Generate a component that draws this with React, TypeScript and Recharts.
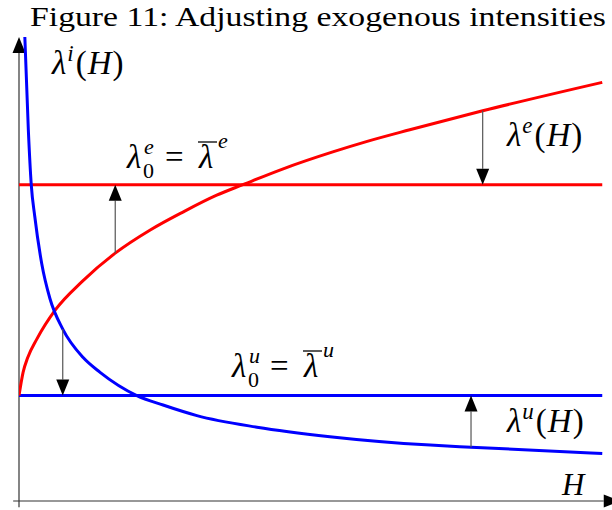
import React from 'react';
import { LineChart, Line, XAxis, YAxis, ReferenceLine, Customized } from 'recharts';

// Exogenous intensity lambda^e(H), read along the horizon H
const redH = [0, 0.07, 0.15, 0.31, 0.62, 1.08, 1.65, 2.25, 2.81, 3.39, 3.84, 4.53, 5.38, 5.97, 6.7, 7.95, 10.0];
const redLambda = [1.0, 1.22, 1.36, 1.54, 1.81, 2.08, 2.35, 2.57, 2.74, 2.9, 3.0, 3.15, 3.31, 3.41, 3.52, 3.7, 3.97];

// Exogenous intensity lambda^u(H)
const blueH = [0.1, 0.16, 0.21, 0.27, 0.39, 0.53, 0.75, 1.1, 1.39, 2.02, 2.47, 3.05, 4.08, 5.33, 7.05, 7.75, 10.0];
const blueLambda = [4.4, 3.52, 3.0, 2.7, 2.25, 1.92, 1.63, 1.36, 1.22, 1.0, 0.91, 0.81, 0.7, 0.61, 0.53, 0.51, 0.45];

// Constant base intensities lambda_0 = lambda-bar
const lambdaBarE = 3;
const lambdaBarU = 1;

const hMax = 10.15;
const lambdaMax = 4.4;

const RED = '#ff0000';
const BLUE = '#0000ff';
const SERIF = '"Liberation Serif", "Times New Roman", serif';

const redData = redH.map((h, i) => ({ h, lambda: redLambda[i] }));
const blueData = blueH.map((h, i) => ({ h, lambda: blueLambda[i] }));

// vertical arrows showing how each curve is pulled to its base level
const adjustArrows = [
  { h: redH[6], from: redLambda[6], to: lambdaBarE },
  { h: redH[15], from: redLambda[15], to: lambdaBarE },
  { h: blueH[6], from: blueLambda[6], to: lambdaBarU },
  { h: blueH[15], from: blueLambda[15], to: lambdaBarU },
];

const Arrow = (props: any) => {
  const { x1, y1, x2, y2 } = props;
  const dx = x2 - x1;
  const dy = y2 - y1;
  const len = Math.hypot(dx, dy) || 1;
  const ux = dx / len;
  const uy = dy / len;
  const headLen = 16;
  const half = 6.5;
  const bx = x2 - ux * headLen;
  const by = y2 - uy * headLen;
  const pts = `${x2},${y2} ${bx - uy * half},${by + ux * half} ${bx + uy * half},${by - ux * half}`;
  return (
    <g>
      <line x1={x1} y1={y1} x2={bx} y2={by} stroke={props.lineColor || '#444'} strokeWidth={1.2} />
      <polygon points={pts} fill="#000" />
    </g>
  );
};

const FnLabel = ({ x, y, sup }: { x: number; y: number; sup: string }) => (
  <text x={x} y={y} fontFamily={SERIF} fontSize={33} fill="#000">
    <tspan fontStyle="italic">λ</tspan>
    <tspan fontStyle="italic" fontSize={23} dy={-13} dx={1}>{sup}</tspan>
    <tspan dy={13} dx={2}>(</tspan>
    <tspan fontStyle="italic" dx={1}>H</tspan>
    <tspan dx={1}>)</tspan>
  </text>
);

const LevelLabel = ({ x, y, sym }: { x: number; y: number; sym: string }) => (
  <g fontFamily={SERIF} fill="#000">
    <text x={x} y={y} fontSize={33} fontStyle="italic">λ</text>
    <text x={x + 17} y={y - 14} fontSize={22} fontStyle="italic">{sym}</text>
    <text x={x + 16} y={y + 10} fontSize={22}>0</text>
    <text x={x + 38} y={y} fontSize={33}>=</text>
    <text x={x + 72} y={y} fontSize={33} fontStyle="italic">λ</text>
    <line x1={x + 71} x2={x + 90} y1={y - 26} y2={y - 26} stroke="#000" strokeWidth={1.3} />
    <text x={x + 91} y={y - 20} fontSize={22} fontStyle="italic">{sym}</text>
  </g>
);

const Labels = () => (
  <g>
    <text x={30} y={26} fontFamily={SERIF} fontSize={28} fill="#000" textLength={576} lengthAdjust="spacingAndGlyphs">
      Figure 11: Adjusting exogenous intensities
    </text>
    <FnLabel x={52} y={74} sup="i" />
    <LevelLabel x={127} y={168} sym="e" />
    <FnLabel x={507} y={146} sup="e" />
    <LevelLabel x={232} y={377} sym="u" />
    <FnLabel x={507} y={432} sup="u" />
    <text x={562} y={495} fontFamily={SERIF} fontSize={31} fontStyle="italic" fill="#000">H</text>
  </g>
);

export default function App() {
  return (
    <div style={{ position: 'absolute', left: 0, top: 0, background: '#fff' }}>
      <LineChart width={612} height={510} margin={{ top: 37, right: 1, bottom: 9, left: 19 }}>
        <XAxis type="number" dataKey="h" domain={[0, hMax]} hide allowDataOverflow />
        <YAxis type="number" domain={[0, lambdaMax]} hide allowDataOverflow />

        {/* axes with arrow heads */}
        <ReferenceLine
          segment={[{ x: 0, y: -0.06 }, { x: 0, y: lambdaMax }]}
          ifOverflow="visible"
          shape={(p: any) => <Arrow {...p} lineColor="#333" />}
        />
        <ReferenceLine
          segment={[{ x: -0.1, y: 0 }, { x: 10.3, y: 0 }]}
          ifOverflow="visible"
          shape={(p: any) => <Arrow {...p} lineColor="#333" />}
        />

        <ReferenceLine
          segment={[{ x: 0, y: lambdaBarE }, { x: redH[redH.length - 1], y: lambdaBarE }]}
          stroke={RED}
          strokeWidth={3}
          ifOverflow="visible"
        />
        <ReferenceLine
          segment={[{ x: 0, y: lambdaBarU }, { x: blueH[blueH.length - 1], y: lambdaBarU }]}
          stroke={BLUE}
          strokeWidth={3}
          ifOverflow="visible"
        />

        <Line
          data={redData}
          dataKey="lambda"
          type="monotone"
          stroke={RED}
          strokeWidth={3}
          dot={false}
          isAnimationActive={false}
        />
        <Line
          data={blueData}
          dataKey="lambda"
          type="monotone"
          stroke={BLUE}
          strokeWidth={3}
          dot={false}
          isAnimationActive={false}
        />

        {adjustArrows.map((a, i) => (
          <ReferenceLine
            key={i}
            segment={[{ x: a.h, y: a.from }, { x: a.h, y: a.to }]}
            ifOverflow="visible"
            shape={(p: any) => <Arrow {...p} lineColor="#555" />}
          />
        ))}

        <Customized component={Labels} />
      </LineChart>
    </div>
  );
}
